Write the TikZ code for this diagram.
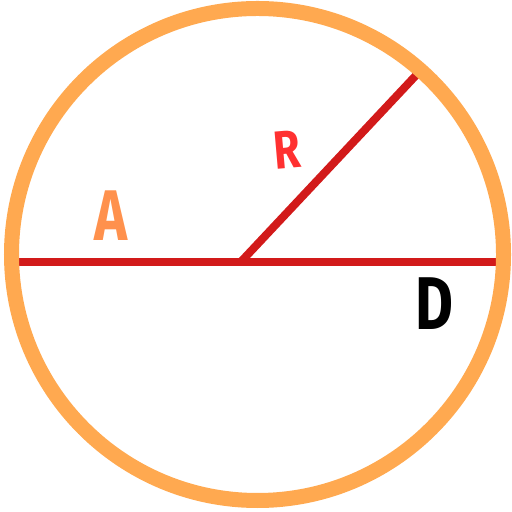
\documentclass[tikz,border=0pt]{standalone}
\usepackage{tkz-euclide}
\usepackage{fontspec}
\setmainfont{Fira Sans}
\tikzset{>=stealth}
\definecolor{ringorange}{RGB}{255,169,80}
\definecolor{linered}{RGB}{210,26,26}
\definecolor{labelorange}{RGB}{255,145,77}
\definecolor{labelred}{RGB}{255,49,49}
\tikzset{
  redline/.style={linered, line width=8bp},
  letter/.style={font=\bfseries\fontsize{#1}{#1}\selectfont, inner sep=0pt}
}

\begin{document}
\begin{tikzpicture}[x=1bp,y=1bp]
    \useasboundingbox (0,0) rectangle (512,512);
    \tkzDefPoints{257.5/257.5/O, 12/250.3/W, 503/250.3/E, 241/250.3/C}
    \tkzDefShiftPoint[O](0:246){M}
    \tkzDefShiftPoint[C](46.8:258){P}
    \tkzDrawSegment[redline](W,E)
    \tkzDrawSegment[redline](C,P)
    \tkzDrawCircle[ringorange, line width=15bp](O,M)
    \node[letter=72, text=labelorange] (A) at (111.5,296) {\scalebox{0.78}[1]{A}};
    \node[letter=54, text=labelred, rotate=5] (R) at (287,362.5) {\scalebox{0.8}[1]{R}};
    \node[letter=75, text=black] (D) at (434,208) {\scalebox{0.78}[1]{D}};
\end{tikzpicture}
\end{document}
